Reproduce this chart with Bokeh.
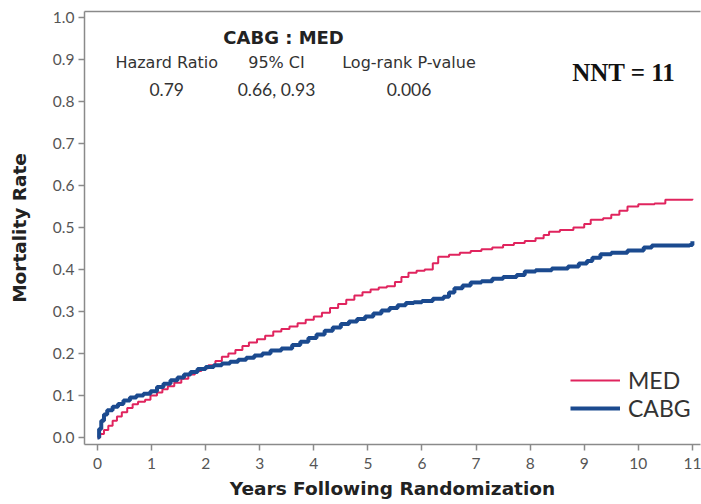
from bokeh.plotting import figure
from bokeh.models import LinearAxis, Legend, LegendItem, Label, FixedTicker, PrintfTickFormatter
from bokeh.embed import file_html
from bokeh.resources import INLINE

# Kaplan-Meier style cumulative mortality, by randomized arm
med_years = [0.0, 0.05, 0.12, 0.2, 0.28, 0.36, 0.45, 0.55, 0.65, 0.75, 0.88, 0.98,
             1.1, 1.2, 1.3, 1.42, 1.55, 1.68, 1.8, 1.92, 2.05, 2.18, 2.3, 2.42,
             2.55, 2.68, 2.8, 2.95, 3.1, 3.25, 3.4, 3.55, 3.7, 3.85, 4.0, 4.15,
             4.3, 4.45, 4.6, 4.75, 4.9, 5.05, 5.2, 5.35, 5.5, 5.62, 5.75, 5.9,
             6.05, 6.2, 6.3, 6.5, 6.7, 6.9, 7.1, 7.3, 7.5, 7.7, 7.9, 8.1, 8.25,
             8.35, 8.55, 8.8, 9.0, 9.12, 9.35, 9.5, 9.65, 9.8, 10.0, 10.3, 10.5, 11.0]
med_rate = [0.0, 0.008, 0.018, 0.028, 0.04, 0.05, 0.06, 0.07, 0.079, 0.085, 0.09, 0.1,
            0.107, 0.115, 0.122, 0.13, 0.14, 0.15, 0.158, 0.165, 0.172, 0.182, 0.192, 0.2,
            0.208, 0.218, 0.226, 0.234, 0.242, 0.252, 0.258, 0.264, 0.272, 0.28, 0.288, 0.297,
            0.308, 0.318, 0.328, 0.338, 0.346, 0.352, 0.357, 0.36, 0.37, 0.382, 0.392, 0.397,
            0.4, 0.415, 0.43, 0.435, 0.44, 0.444, 0.448, 0.452, 0.458, 0.463, 0.468, 0.474, 0.482,
            0.49, 0.494, 0.5, 0.508, 0.518, 0.522, 0.53, 0.54, 0.55, 0.555, 0.557, 0.566, 0.568]

cabg_years = [0.0, 0.03, 0.07, 0.12, 0.18, 0.28, 0.38, 0.48, 0.6, 0.72, 0.85, 0.98,
              1.1, 1.22, 1.35, 1.48, 1.6, 1.72, 1.85, 2.0, 2.15, 2.3, 2.45, 2.6,
              2.75, 2.9, 3.05, 3.2, 3.4, 3.6, 3.75, 3.9, 4.05, 4.2, 4.35, 4.5,
              4.65, 4.8, 4.95, 5.1, 5.25, 5.4, 5.55, 5.7, 5.85, 6.0, 6.2, 6.4,
              6.5, 6.6, 6.75, 6.9, 7.1, 7.3, 7.5, 7.75, 7.9, 8.1, 8.4, 8.7, 8.9,
              9.05, 9.15, 9.3, 9.5, 9.8, 10.1, 10.25, 10.95, 11.0]
cabg_rate = [0.0, 0.02, 0.04, 0.055, 0.065, 0.073, 0.08, 0.088, 0.095, 0.1, 0.104, 0.11,
             0.12, 0.128, 0.136, 0.143, 0.15, 0.156, 0.163, 0.168, 0.172, 0.176, 0.18, 0.185,
             0.19, 0.195, 0.2, 0.207, 0.212, 0.22, 0.228, 0.237, 0.245, 0.254, 0.262, 0.27,
             0.276, 0.282, 0.288, 0.295, 0.302, 0.308, 0.315, 0.32, 0.322, 0.325, 0.33, 0.335,
             0.345, 0.355, 0.362, 0.369, 0.372, 0.378, 0.382, 0.387, 0.395, 0.398, 0.402, 0.407, 0.414,
             0.42, 0.428, 0.436, 0.44, 0.445, 0.452, 0.457, 0.458, 0.467]

x_ticks = list(range(0, 12))
y_ticks = [0.0, 0.1, 0.2, 0.3, 0.4, 0.5, 0.6, 0.7, 0.8, 0.9, 1.0]

header_cols = ["Hazard Ratio", "95% CI", "Log-rank P-value"]
header_vals = ["0.79", "0.66, 0.93", "0.006"]
header_x = [1.28, 3.31, 5.76]

MED_COLOR = "#E0245E"
CABG_COLOR = "#1B4A8F"
AXIS_COLOR = "#8a8a8a"
TICK_FONT = "Lato"
TEXT_FONT = "DejaVu Sans"

p = figure(width=701, height=504, x_range=(-0.24, 11.15), y_range=(-0.0167, 1.014),
           output_backend="svg", toolbar_location=None,
           min_border_left=84, min_border_right=1, min_border_top=11, min_border_bottom=60)
p.xgrid.visible = False
p.ygrid.visible = False
p.outline_line_color = None

med = p.step(med_years, med_rate, mode="after", line_color=MED_COLOR, line_width=2)
cabg = p.step(cabg_years, cabg_rate, mode="after", line_color=CABG_COLOR, line_width=4)

for ax in (p.xaxis[0], p.yaxis[0]):
    ax.axis_line_color = AXIS_COLOR
    ax.axis_line_width = 1.5
    ax.major_tick_line_color = AXIS_COLOR
    ax.major_tick_line_width = 1.5
    ax.major_tick_out = 6
    ax.major_tick_in = 0
    ax.minor_tick_line_color = None
    ax.major_label_text_font = TICK_FONT
    ax.major_label_text_font_size = "15.5px"
    ax.major_label_text_color = "#555555"
    ax.axis_label_text_font = TEXT_FONT
    ax.axis_label_text_font_style = "bold"
    ax.axis_label_text_font_size = "18.5px"
    ax.axis_label_text_color = "#222222"

p.xaxis.ticker = FixedTicker(ticks=x_ticks)
p.yaxis.ticker = FixedTicker(ticks=y_ticks)
p.yaxis.formatter = PrintfTickFormatter(format="%.1f")
p.xaxis.axis_label = "Years Following Randomization"
p.yaxis.axis_label = "Mortality Rate"
p.xaxis.major_label_standoff = 7
p.xaxis.axis_label_standoff = 6
p.yaxis.major_label_standoff = 4
p.yaxis.axis_label_standoff = 20

# thin rule along the top of the plotting area
top = LinearAxis(axis_line_color=AXIS_COLOR, axis_line_width=1.5,
                 major_tick_line_color=None, minor_tick_line_color=None,
                 major_label_text_font_size="0px", ticker=FixedTicker(ticks=[]))
p.add_layout(top, "above")

p.add_layout(Label(x=3.44, y=0.953, text="CABG : MED", text_font=TEXT_FONT, text_font_style="bold",
                   text_font_size="18px", text_color="#222222",
                   text_align="center", text_baseline="alphabetic"))
for cx, col, val in zip(header_x, header_cols, header_vals):
    p.add_layout(Label(x=cx, y=0.892, text=col, text_font=TEXT_FONT, text_font_size="16px",
                       text_color="#333333", text_align="center", text_baseline="alphabetic"))
    p.add_layout(Label(x=cx, y=0.828, text=val, text_font=TICK_FONT, text_font_size="17.5px",
                       text_color="#333333", text_align="center", text_baseline="alphabetic"))
p.add_layout(Label(x=9.73, y=0.869, text="NNT = 11", text_font="Liberation Serif",
                   text_font_style="bold", text_font_size="25px", text_color="#111111",
                   text_align="center", text_baseline="alphabetic"))

legend = Legend(items=[LegendItem(label="MED", renderers=[med]),
                       LegendItem(label="CABG", renderers=[cabg])],
                location=(486, 22), padding=0, margin=0, spacing=0,
                glyph_height=20, glyph_width=50, label_standoff=8, label_height=20,
                border_line_color=None, background_fill_alpha=0,
                label_text_font=TICK_FONT, label_text_font_size="23px", label_text_color="#333333")
p.add_layout(legend)

open("out.html", "w").write(file_html(p, INLINE))
